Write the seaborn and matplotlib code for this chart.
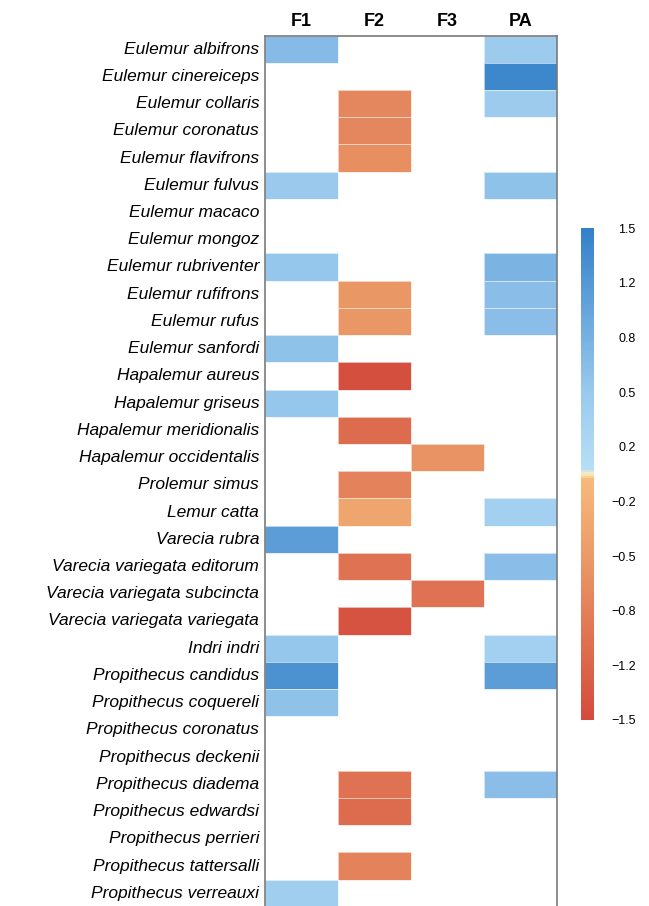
import numpy as np
import pandas as pd
import matplotlib
matplotlib.use("Agg")
import matplotlib.pyplot as plt
import seaborn as sns
from matplotlib.colors import LinearSegmentedColormap

species = [
    "Eulemur albifrons", "Eulemur cinereiceps", "Eulemur collaris", "Eulemur coronatus",
    "Eulemur flavifrons", "Eulemur fulvus", "Eulemur macaco", "Eulemur mongoz",
    "Eulemur rubriventer", "Eulemur rufifrons", "Eulemur rufus", "Eulemur sanfordi",
    "Hapalemur aureus", "Hapalemur griseus", "Hapalemur meridionalis", "Hapalemur occidentalis",
    "Prolemur simus", "Lemur catta", "Varecia rubra", "Varecia variegata editorum",
    "Varecia variegata subcincta", "Varecia variegata variegata", "Indri indri",
    "Propithecus candidus", "Propithecus coquereli", "Propithecus coronatus",
    "Propithecus deckenii", "Propithecus diadema", "Propithecus edwardsi",
    "Propithecus perrieri", "Propithecus tattersalli", "Propithecus verreauxi",
]
columns = ["F1", "F2", "F3", "PA"]
nan = np.nan
F1 = [0.7, nan, nan, nan, nan, 0.5, nan, nan, 0.55, nan, nan, 0.6,
      nan, 0.55, nan, nan, nan, nan, 1.1, nan, nan, nan, 0.55,
      1.25, 0.6, nan, nan, nan, nan, nan, nan, 0.4]
F2 = [nan, nan, -0.75, -0.75, -0.65, nan, nan, nan, nan, -0.55, -0.55, nan,
      -1.45, nan, -1.1, nan, -0.8, -0.35, nan, -1.0, nan, -1.4, nan,
      nan, nan, nan, nan, -1.0, -1.1, nan, -0.8, nan]
F3 = [nan] * 15 + [-0.6] + [nan] * 4 + [-1.0] + [nan] * 11
PA = [0.45, 1.4, 0.45, nan, nan, 0.6, nan, nan, 0.8, 0.65, 0.65, nan,
      nan, nan, nan, nan, nan, 0.35, nan, 0.65, nan, nan, 0.35,
      1.1, nan, nan, nan, 0.65, nan, nan, nan, nan]
cbar_ticks = np.linspace(-1.5, 1.5, 10)

df = pd.DataFrame({"F1": F1, "F2": F2, "F3": F3, "PA": PA}, index=species)[columns]

cmap = LinearSegmentedColormap.from_list("rb", [
    (0.0, "#d44b3d"), (0.33, "#eb9a68"), (0.49, "#f6ba7b"), (0.5, "#fbf0c0"),
    (0.51, "#b7def6"), (0.67, "#99c9ed"), (1.0, "#3380c8")])

sns.set_style("white")
plt.rcParams["font.family"] = ["Liberation Sans", "DejaVu Sans"]
plt.rcParams["text.color"] = "black"
plt.rcParams["xtick.color"] = "black"
plt.rcParams["ytick.color"] = "black"

fig = plt.figure(figsize=(6.49, 9.06), dpi=100)
ax = fig.add_axes([0.408, -0.001, 0.450, 0.9618])
cax = fig.add_axes([0.895, 0.2053, 0.020, 0.543])

sns.heatmap(df, ax=ax, cmap=cmap, vmin=-1.5, vmax=1.5, cbar_ax=cax,
            linewidths=0.6, linecolor=(1, 1, 1, 0.6),
            cbar_kws={"ticks": cbar_ticks})

ax.xaxis.tick_top()
ax.set_xticklabels(columns, fontsize=13, fontweight="bold", rotation=0, color="black")
ax.set_yticklabels(species, fontsize=12.5, style="italic", rotation=0, color="black")
ax.tick_params(axis="both", length=0, pad=4)
ax.set_ylabel("")
for s in ax.spines.values():
    s.set_visible(True)
    s.set_color("#7a7a7a")
    s.set_linewidth(1.2)

cb = ax.collections[0].colorbar
cb.outline.set_visible(False)
cb.set_ticklabels([f"{t:.1f}".replace("-", "\u2212") for t in cbar_ticks])
cax.tick_params(length=0, labelsize=9, pad=30, labelcolor="black")
for lab in cax.get_yticklabels():
    lab.set_horizontalalignment("right")

fig.savefig("out.png", dpi=100)
